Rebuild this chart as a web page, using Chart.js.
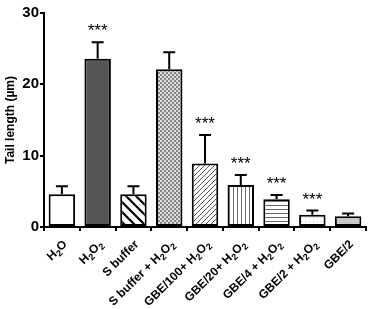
<!DOCTYPE html>
<html>
<head>
<meta charset="utf-8">
<script src="https://cdn.jsdelivr.net/npm/chart.js@4"></script>
<style>
  html, body { margin:0; padding:0; background:#fff; }
  #wrap { width:368px; height:309px; }
</style>
</head>
<body>
<div id="wrap"><canvas id="chart"></canvas></div>
<script>
const labels = ['H₂O', 'H₂O₂', 'S buffer', 'S buffer + H₂O₂', 'GBE/100+ H₂O₂', 'GBE/20+ H₂O₂', 'GBE/4 + H₂O₂', 'GBE/2 + H₂O₂', 'GBE/2'];
const means = [4.6, 23.6, 4.6, 22.1, 8.9, 5.9, 3.9, 1.7, 1.5];
const errs = [1.1, 2.3, 1.1, 2.4, 4.0, 1.4, 0.6, 0.6, 0.4];
const stars = ['', '***', '', '', '***', '***', '***', '***', ''];
const yTicks = [0, 10, 20, 30];

function pattern(kind) {
  const c = document.createElement('canvas');
  const s = kind === 'back' ? 10 : (kind === 'fwd' ? 5 : 4);
  c.width = s; c.height = s;
  const g = c.getContext('2d');
  g.fillStyle = '#fff'; g.fillRect(0, 0, s, s);
  g.strokeStyle = '#333'; g.lineWidth = 1;
  if (kind === 'back') {
    g.lineWidth = 2.2; g.strokeStyle = '#000';
    g.beginPath(); g.moveTo(-2, -2); g.lineTo(s + 2, s + 2);
    g.moveTo(-2, s - 2); g.lineTo(2, s + 2);
    g.moveTo(s - 2, -2); g.lineTo(s + 2, 2); g.stroke();
  } else if (kind === 'fwd') {
    g.strokeStyle = '#555';
    g.beginPath(); g.moveTo(0, s); g.lineTo(s, 0);
    g.moveTo(-1, 1); g.lineTo(1, -1);
    g.moveTo(s - 1, s + 1); g.lineTo(s + 1, s - 1); g.stroke();
  } else if (kind === 'vert') {
    g.strokeStyle = '#666';
    g.beginPath(); g.moveTo(1.5, 0); g.lineTo(1.5, s); g.stroke();
  } else if (kind === 'horz') {
    g.strokeStyle = '#666';
    g.beginPath(); g.moveTo(0, 1.5); g.lineTo(s, 1.5); g.stroke();
  } else if (kind === 'dots') {
    g.fillStyle = '#bbb'; g.fillRect(1, 1, 1, 1);
  } else if (kind === 'check') {
    g.fillStyle = '#888'; g.fillRect(0, 0, s, s);
    g.fillStyle = '#ddd'; g.fillRect(0, 0, 2, 2); g.fillRect(2, 2, 2, 2);
  }
  return document.createElement('canvas').getContext('2d').createPattern(c, 'repeat');
}

const fills = ['#fff', '#555', pattern('back'), pattern('check'), pattern('fwd'), pattern('vert'), pattern('horz'), pattern('dots'), '#c8c8c8'];

const FONT = '"Liberation Sans", Arial, sans-serif';

// error bars, significance stars and the rotated category labels (with subscripts)
const extras = {
  id: 'extras',
  afterDraw(chart) {
    const ctx = chart.ctx, y = chart.scales.y, x = chart.scales.x;
    const meta = chart.getDatasetMeta(0);
    ctx.save();
    ctx.strokeStyle = '#000'; ctx.lineWidth = 2;
    meta.data.forEach((bar, i) => {
      const top = y.getPixelForValue(means[i]);
      const et = y.getPixelForValue(means[i] + errs[i]);
      const half = 6;
      ctx.beginPath();
      ctx.moveTo(bar.x, top); ctx.lineTo(bar.x, et);
      ctx.moveTo(bar.x - half, et); ctx.lineTo(bar.x + half, et);
      ctx.stroke();
      if (stars[i]) {
        ctx.fillStyle = '#000';
        ctx.font = '17px ' + FONT;
        ctx.textAlign = 'center'; ctx.textBaseline = 'alphabetic';
        ctx.fillText(stars[i], bar.x, et - 6);
      }
    });

    const big = 'bold 12px ' + FONT, small = 'bold 9px ' + FONT;
    labels.forEach((lab, i) => {
      const parts = [];
      for (const ch of lab) {
        const sub = ch === '₂';
        const t = sub ? '2' : ch;
        const last = parts[parts.length - 1];
        if (last && last.sub === sub) last.t += t; else parts.push({ t, sub });
      }
      let w = 0;
      parts.forEach(p => { ctx.font = p.sub ? small : big; p.w = ctx.measureText(p.t).width; w += p.w; });
      const px = x.getPixelForValue(i) + 3;
      const py = x.top + 15;
      ctx.save();
      ctx.translate(px, py);
      ctx.rotate(-Math.PI / 4);
      ctx.fillStyle = '#000';
      ctx.textAlign = 'left'; ctx.textBaseline = 'alphabetic';
      let cx = -w;
      parts.forEach(p => {
        ctx.font = p.sub ? small : big;
        ctx.fillText(p.t, cx, p.sub ? 7 : 4);
        cx += p.w;
      });
      ctx.restore();
    });
    ctx.restore();
  }
};

new Chart(document.getElementById('chart'), {
  type: 'bar',
  data: {
    labels: labels,
    datasets: [{
      data: means,
      backgroundColor: fills,
      borderColor: '#000',
      borderWidth: 2,
      borderSkipped: false,
      barPercentage: 0.74,
      categoryPercentage: 1
    }]
  },
  options: {
    responsive: true,
    maintainAspectRatio: false,
    animation: false,
    layout: { padding: { top: 13, right: 2, left: 3 } },
    plugins: { legend: { display: false }, tooltip: { enabled: false } },
    scales: {
      x: {
        offset: true,
        grid: { display: true, drawOnChartArea: false, drawTicks: true, tickLength: 4, color: '#000', lineWidth: 2 },
        border: { color: '#000', width: 2 },
        ticks: { display: false },
        afterFit(s) { s.height = 82; }
      },
      y: {
        min: 0, max: 30,
        afterBuildTicks(s) { s.ticks = yTicks.map(v => ({ value: v })); },
        grid: { display: true, drawOnChartArea: false, drawTicks: true, tickLength: 4, color: '#000', lineWidth: 2 },
        border: { color: '#000', width: 2 },
        ticks: {
          color: '#000', padding: 1,
          font: { family: FONT, size: 15, weight: 'bold' }
        },
        title: {
          display: true, text: 'Tail length (µm)', color: '#000', padding: 0,
          font: { family: FONT, size: 12, weight: 'bold' }
        },
        afterFit(s) { s.width = 41; }
      }
    }
  },
  plugins: [extras]
});
</script>
</body>
</html>
